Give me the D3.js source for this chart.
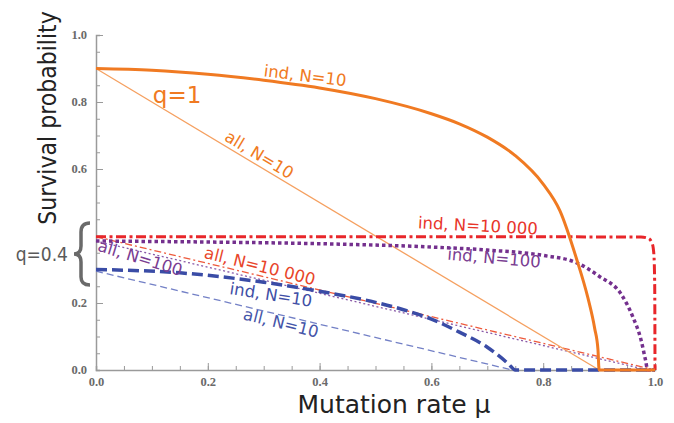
<!DOCTYPE html>
<html lang="en">
<head>
<meta charset="UTF-8">
<script src="https://cdn.jsdelivr.net/npm/d3@7"></script>
<title>Survival probability</title>
<style>
body { margin: 0; background: #fff; }
svg { display: block; }
</style>
</head>
<body>
<svg id="chart" width="674" height="423"></svg>
<script>
// curves, [mu, survival]
let indN10q1 = [[0,0.9],[0.1,0.895],[0.2,0.883],[0.3,0.865],[0.4,0.842],[0.5,0.81],[0.6,0.765],[0.65,0.735],[0.7,0.695],[0.75,0.64],[0.8,0.555],[0.83,0.475],[0.86,0.33],[0.88,0.215],[0.892,0.125],[0.898,0.06],[0.9,0],[1.0,0]]
let allN10q1 = [[0,0.9],[0.9,0]]
let indN10000 = [[0,0.398],[0.5,0.398],[0.975,0.397],[0.988,0.393],[0.995,0.378],[0.998,0.345],[0.9995,0.25],[1.0,0]]
let indN100 = [[0,0.385],[0.2,0.382],[0.4,0.377],[0.6,0.367],[0.7,0.358],[0.8,0.342],[0.86,0.32],[0.9,0.28],[0.94,0.225],[0.96,0.16],[0.975,0.09],[0.983,0.03],[0.987,0],[1.0,0]]
let indN10 = [[0,0.3],[0.15,0.29],[0.3,0.262],[0.4,0.235],[0.5,0.202],[0.55,0.18],[0.6,0.152],[0.65,0.113],[0.7,0.068],[0.738,0.018],[0.75,0],[1.0,0]]
let allN10000 = [[0,0.398],[1.0,0]]
let allN100 = [[0,0.385],[0.987,0]]
let allN10 = [[0,0.295],[0.745,0]]

let ticks = [0, 0.2, 0.4, 0.6, 0.8, 1.0]
let minorTicks = d3.range(0, 1.0001, 0.05)

// label text, colour, mu, p, angle
let labels = [
	['ind, N=10', '#f07a22', 0.374, 0.878, 7],
	['all, N=10', '#f07a22', 0.292, 0.642, 31],
	['ind, N=10 000', '#e8352a', 0.683, 0.43, 3],
	['ind, N=100', '#7a3d92', 0.712, 0.334, 5],
	['all, N=100', '#7a3d92', 0.079, 0.334, 17],
	['all, N=10 000', '#e8452a', 0.293, 0.31, 14],
	['ind, N=10', '#3f4fa6', 0.313, 0.224, 9],
	['all, N=10', '#4555a8', 0.331, 0.14, 14],
]

let svg = d3.select('#chart')
let x = d3.scaleLinear().domain([0, 1]).range([96, 655])
let y = d3.scaleLinear().domain([0, 1]).range([370, 35])

// axes, ticks inward
let axisCol = '#9a9a9a'
let xa = svg.append('g').attr('transform', 'translate(0,370)')
	.call(d3.axisBottom(x).tickValues(minorTicks).tickSize(-4).tickFormat(''))
xa.selectAll('line').attr('stroke', axisCol)
xa.select('.domain').attr('stroke', axisCol).attr('stroke-width', 1.5)
let xb = svg.append('g').attr('transform', 'translate(0,370)')
	.call(d3.axisBottom(x).tickValues(ticks).tickSize(-7).tickPadding(7).tickFormat(d3.format('.1f')))
xb.select('.domain').remove()
xb.selectAll('line').attr('stroke', axisCol)

let ya = svg.append('g').attr('transform', 'translate(96,0)')
	.call(d3.axisLeft(y).tickValues(minorTicks).tickSize(-4).tickFormat(''))
ya.selectAll('line').attr('stroke', axisCol)
ya.select('.domain').attr('stroke', axisCol).attr('stroke-width', 1.5)
let yb = svg.append('g').attr('transform', 'translate(96,0)')
	.call(d3.axisLeft(y).tickValues(ticks.filter(d => d !== 0.4)).tickSize(-7).tickPadding(9).tickFormat(d3.format('.1f')))
yb.select('.domain').remove()
yb.selectAll('line').attr('stroke', axisCol)
yb.selectAll('text').attr('dy', '0.3em')
// the 0.4 major tick has no label
svg.append('line').attr('x1', 96).attr('x2', 103).attr('y1', y(0.4)).attr('y2', y(0.4)).attr('stroke', axisCol)

svg.selectAll('.tick text')
	.attr('font-family', 'Liberation Serif, serif')
	.attr('font-size', 12.5)
	.attr('font-weight', 'bold')
	.attr('fill', '#6a6a6a')

// curves
let smooth = d3.line().x(d => x(d[0])).y(d => y(d[1])).curve(d3.curveMonotoneX)
let straight = d3.line().x(d => x(d[0])).y(d => y(d[1]))

let series = [
	[allN10000, straight, '#ee5a3c', 1.3, '7,3,2,3'],
	[allN100, straight, '#8a5aa8', 1.3, '2,2.5'],
	[allN10, straight, '#7380c6', 1.3, '7,4'],
	[allN10q1, straight, '#f5a060', 1.3, null],
	[indN10, smooth, '#3a4ca6', 3.5, '11,5'],
	[indN100, smooth, '#74308e', 3.5, '3.5,3'],
	[indN10000, smooth, '#e8262a', 3, '10,3.5,3,3.5'],
	[indN10q1, smooth, '#f07a22', 3, null],
]
series.forEach(([data, gen, col, w, dash]) => {
	svg.append('path')
		.attr('d', gen(data))
		.attr('fill', 'none')
		.attr('stroke', col)
		.attr('stroke-width', w)
		.attr('stroke-dasharray', dash)
})

// curve labels
svg.selectAll('.lbl').data(labels).join('text')
	.attr('class', 'lbl')
	.attr('transform', d => `translate(${x(d[2])},${y(d[3])}) rotate(${d[4]})`)
	.attr('text-anchor', 'middle')
	.attr('dominant-baseline', 'central')
	.attr('font-family', 'DejaVu Sans, sans-serif')
	.attr('font-size', 16.5)
	.attr('fill', d => d[1])
	.text(d => d[0])

svg.append('text')
	.attr('x', x(0.145)).attr('y', y(0.821))
	.attr('text-anchor', 'middle').attr('dominant-baseline', 'central')
	.attr('font-family', 'DejaVu Sans, sans-serif')
	.attr('font-size', 23).attr('fill', '#f07a22')
	.text('q=1')

// q=0.4 bracket
svg.append('path')
	.attr('d', 'M90,223 Q81,223 81,232 L81,246 Q81,254 74,254 Q81,254 81,262 L81,277 Q81,285 90,285')
	.attr('fill', 'none').attr('stroke', '#6a6a6a').attr('stroke-width', 3.5)
svg.append('text')
	.attr('x', 68).attr('y', 254)
	.attr('text-anchor', 'end').attr('dominant-baseline', 'central')
	.attr('font-family', 'DejaVu Sans Condensed, DejaVu Sans, sans-serif')
	.attr('font-size', 19).attr('fill', '#5a5a5a')
	.text('q=0.4')

// axis titles
svg.append('text')
	.attr('x', 394).attr('y', 413)
	.attr('text-anchor', 'middle')
	.attr('font-family', 'DejaVu Sans, sans-serif')
	.attr('font-size', 25).attr('fill', '#222')
	.text('Mutation rate μ')
svg.append('text')
	.attr('transform', 'translate(56,118) rotate(-90)')
	.attr('text-anchor', 'middle')
	.attr('font-family', 'DejaVu Sans Condensed, DejaVu Sans, sans-serif')
	.attr('font-size', 24.5).attr('fill', '#222')
	.text('Survival probability')
</script>
</body>
</html>
